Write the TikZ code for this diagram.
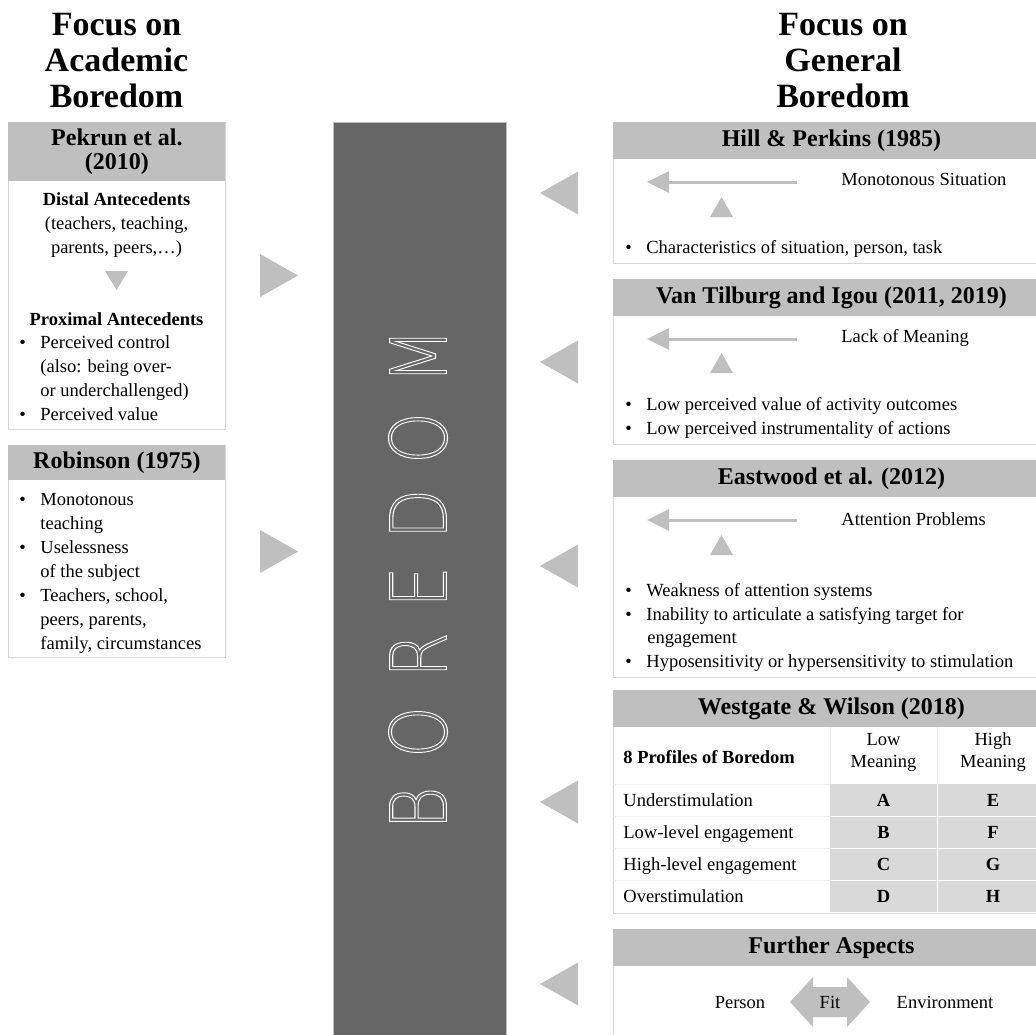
\documentclass[tikz,border=0pt]{standalone}
\usepackage{fontspec}
\setmainfont{Liberation Serif}
\newfontfamily\barfont{DejaVu Sans ExtraLight}
\usetikzlibrary{arrows.meta, positioning, calc}
\definecolor{cdark}{HTML}{666666}
\definecolor{cgrey}{HTML}{BFBFBF}
\definecolor{clight}{HTML}{D9D9D9}
\definecolor{cframe}{HTML}{D6D6D6}
\definecolor{cfaint}{HTML}{EEEEEE}
\newcommand{\hollow}[1]{\special{pdf:literal direct q 1 Tr 1.1 w}#1\special{pdf:literal direct Q}}
\newcommand{\bul}{\makebox[21pt][l]{\textbullet}}
\tikzset{
  every picture/.style={line width=0.8pt},
  body/.style={font=\fontsize{18.5}{24}\selectfont, inner sep=0pt, anchor=base},
  bodyl/.style={body, anchor=base west},
  title/.style={font=\fontsize{34}{36}\selectfont\bfseries, inner sep=0pt, anchor=base},
  panel/.style={draw=cframe, fill=white, anchor=north west, inner sep=0pt},
  head/.style={fill=cgrey, anchor=north west, inner sep=0pt, align=center, font=\fontsize{24}{24}\selectfont\bfseries},
  pointer/.style={fill=cgrey},
  cause/.style={-{Triangle[length=22pt, width=21pt]}, draw=cgrey, line width=3pt},
}

\begin{document}
\begin{tikzpicture}[x=1pt, y=-1pt]
  \useasboundingbox (0,0) rectangle (1036,1034);
  \clip (0,0) rectangle (1036,1034);

  % column titles
  \foreach \w [count=\i] in {Focus on, Academic, Boredom}
    \node[title] (ta\i) at (116.5, 36*\i-1) {\w};
  \foreach \w [count=\i] in {Focus on, General, Boredom}
    \node[title] (tg\i) at (843, 36*\i-1) {\w};

  % centre bar
  \node[fill=cdark, draw=cgrey, line width=0.6pt, anchor=north west, inner sep=0pt,
        minimum width=173pt, minimum height=930pt] (bar) at (333,122) {};
  \foreach \c/\yy [count=\i] in {B/808, O/732, R/655, E/587, D/514, O/438, M/356}
    \node[rotate=90, text=white, font=\barfont\fontsize{78}{78}\selectfont, inner sep=0pt]
      (bb\i) at (418,\yy) {\hollow{\scalebox{0.84}[1]{\c}}};

  % academic boredom: Pekrun
  \node[panel, minimum width=217pt, minimum height=307pt] (pek) at (8,122) {};
  \node[head, minimum width=217pt, minimum height=59pt] (pekh) at (8,122) {Pekrun et al.\\(2010)};
  \foreach \t [count=\i] in {\textbf{Distal Antecedents}, {(teachers, teaching,}, {parents, peers,\ldots)}}
    \node[body] (pd\i) at (116.5, 181+24*\i) {\t};
  \fill[pointer] (105,271) -- (128,271) -- (116.5,290) -- cycle;
  \node[body] (pp) at (116.5,325) {\textbf{Proximal Antecedents}};
  \foreach \x/\t [count=\i] in {19/\bul Perceived control, 40/{(also: being over-}, 40/or underchallenged), 19/\bul Perceived value}
    \node[bodyl] (pq\i) at (\x, 324+24*\i) {\t};

  % academic boredom: Robinson
  \node[panel, minimum width=217pt, minimum height=212pt] (rob) at (8,445) {};
  \node[head, minimum width=217pt, minimum height=35pt] (robh) at (8,445) {Robinson (1975)};
  \foreach \x/\t [count=\i] in {19/\bul Monotonous, 40/teaching, 19/\bul Uselessness, 40/of the subject,
      19/{\bul Teachers, school,}, 40/{peers, parents,}, 40/{family, circumstances}}
    \node[bodyl] (rb\i) at (\x, 481+24*\i) {\t};

  % pointers into the bar
  \fill[pointer] (260,254) -- (298,275.5) -- (260,297) -- cycle;
  \fill[pointer] (260,530) -- (298,551.5) -- (260,573) -- cycle;
  \foreach \yy in {193, 362, 566, 802, 984}
    \fill[pointer] (578,\yy-21.5) -- (540,\yy) -- (578,\yy+21.5) -- cycle;

  % general boredom: Hill & Perkins
  \node[panel, minimum width=436pt, minimum height=141pt] (hp) at (613,122) {};
  \node[head, minimum width=436pt, minimum height=37pt] (hph) at (613,122) {Hill \& Perkins (1985)};
  \node[bodyl] (hpt) at (841,185) {Monotonous Situation};
  \coordinate (hpa) at (797,182);
  \coordinate (hpb) at (647,182);
  \draw[cause] (hpa) -- (hpb);
  \fill[pointer] (710,217) -- (733,217) -- (721.5,197) -- cycle;
  \node[bodyl] (hp1) at (625,253) {\bul Characteristics of situation, person, task};

  % general boredom: Van Tilburg and Igou
  \node[panel, minimum width=436pt, minimum height=165pt] (vt) at (613,279) {};
  \node[head, minimum width=436pt, minimum height=37pt] (vth) at (613,279) {Van Tilburg and Igou (2011, 2019)};
  \node[bodyl] (vtt) at (841,342) {Lack of Meaning};
  \coordinate (vta) at (797,339);
  \coordinate (vtb) at (647,339);
  \draw[cause] (vta) -- (vtb);
  \fill[pointer] (710,373) -- (733,373) -- (721.5,353) -- cycle;
  \node[bodyl] (vt1) at (625,410) {\bul Low perceived value of activity outcomes};
  \node[bodyl] (vt2) at (625,434) {\bul Low perceived instrumentality of actions};

  % general boredom: Eastwood
  \node[panel, minimum width=436pt, minimum height=217pt] (ew) at (613,460) {};
  \node[head, minimum width=436pt, minimum height=37pt] (ewh) at (613,460) {Eastwood et al. (2012)};
  \node[bodyl] (ewt) at (841,525) {Attention Problems};
  \coordinate (ewa) at (797,520);
  \coordinate (ewb) at (647,520);
  \draw[cause] (ewa) -- (ewb);
  \fill[pointer] (710,555) -- (733,555) -- (721.5,535) -- cycle;
  \foreach \x/\t [count=\i] in {625/\bul Weakness of attention systems, 625/\bul Inability to articulate a satisfying target for,
      647/engagement, 625/\bul Hyposensitivity or hypersensitivity to stimulation}
    \node[bodyl] (ew\i) at (\x, 573+23.6*\i) {\t};

  % general boredom: Westgate & Wilson
  \node[panel, minimum width=436pt, minimum height=223pt] (ww) at (613,690) {};
  \node[head, minimum width=436pt, minimum height=37pt] (wwh) at (613,690) {Westgate \& Wilson (2018)};
  \fill[clight] (830,784) rectangle (1049,912);
  \draw[white, line width=1pt] (937,784) -- (937,912);
  \foreach \yy in {816,848,880}
    \draw[white, line width=1pt] (830,\yy) -- (1049,\yy);
  \draw[cfaint, line width=0.6pt] (830,727) -- (830,784) (937,727) -- (937,784) (613,784) -- (830,784);
  \foreach \yy in {816,848,880}
    \draw[cfaint, line width=0.6pt] (613,\yy) -- (830,\yy);
  \node[bodyl] (wp) at (623,763) {\textbf{8 Profiles of Boredom}};
  \node[body] (wlo1) at (883.5,745) {Low};
  \node[body] (wlo2) at (883.5,767) {Meaning};
  \node[body] (whi1) at (993,745) {High};
  \node[body] (whi2) at (993,767) {Meaning};
  \foreach \t/\a/\b [count=\i] in {Understimulation/A/E, Low-level engagement/B/F,
      High-level engagement/C/G, Overstimulation/D/H} {
    \node[bodyl] (wr\i) at (623, 774+32*\i) {\t};
    \node[body] (wa\i) at (883.5, 774+32*\i) {\textbf{\a}};
    \node[body] (wb\i) at (993, 774+32*\i) {\textbf{\b}};
  }

  % further aspects
  \node[panel, minimum width=436pt, minimum height=120pt] (fa) at (613,929) {};
  \node[head, minimum width=436pt, minimum height=37pt] (fah) at (613,929) {Further Aspects};
  \fill[cgrey] (790,1002) -- (813,977) -- (813,987) -- (847,987) -- (847,977) -- (870,1002)
    -- (847,1027) -- (847,1017) -- (813,1017) -- (813,1027) -- cycle;
  \node[body] (per) at (740,1008) {Person};
  \node[body] (fit) at (830,1008) {Fit};
  \node[body] (env) at (945,1008) {Environment};
\end{tikzpicture}
\end{document}
